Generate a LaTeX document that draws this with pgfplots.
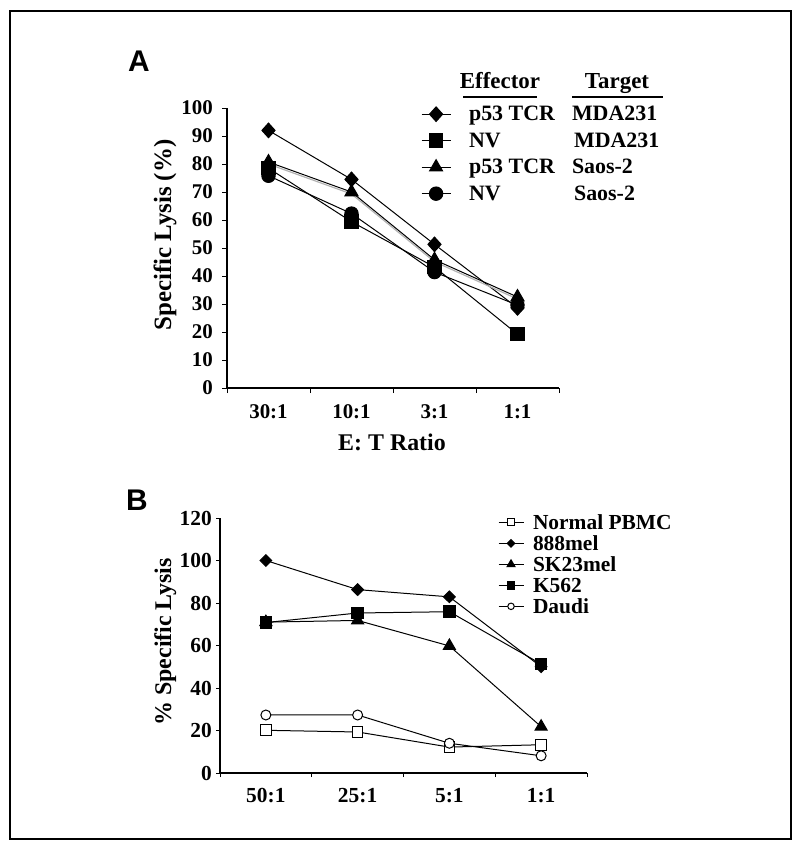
\documentclass[border=0pt]{standalone}
\usepackage{pgfplots}
\pgfplotsset{compat=1.18}
\usepackage{fontspec}
\setmainfont{Liberation Serif}
\newfontfamily\panelfont{Liberation Sans}
\begin{document}
\begin{tikzpicture}
\useasboundingbox (0bp,0bp) rectangle (800bp,-845bp);
\draw[line width=1.5bp] (10bp,-11bp) rectangle (791bp,-839bp);
\node[font=\panelfont\fontsize{30}{34}\selectfont\bfseries] at (139bp,-61bp) {A};
\node[font=\panelfont\fontsize{30}{34}\selectfont\bfseries] at (137bp,-500bp) {B};
% Panel A
\begin{axis}[
  scale only axis, width=332bp, height=280bp,
  at={(227bp,-388bp)}, anchor=south west,
  xmin=-0.5, xmax=3.5, ymin=0, ymax=100,
  axis x line*=bottom, axis y line*=left,
  xtick={-0.5,0.5,1.5,2.5,3.5}, x tick label as interval,
  xticklabels={30:1,10:1,3:1,1:1},
  ytick={0,10,...,100},
  tick align=outside, major tick length=5bp,
  tick style={black, line width=1bp},
  axis line style={line width=1.2bp},
  ticklabel style={font=\fontsize{21}{25}\selectfont\bfseries},
  /pgf/number format/assume math mode=true,
  xticklabel style={inner sep=0pt, yshift=-11bp},
  yticklabel style={inner sep=0pt, xshift=-9bp},
  clip=false,
  legend cell align=left,
  legend style={at={(0.584,1.026)}, anchor=north west, draw=none, fill=none,
    inner sep=0pt, row sep=0pt,
    font=\fontsize{22}{26}\selectfont\bfseries,
    nodes={inner sep=0pt, text height=20bp, text depth=6.5bp},
    /tikz/every odd column/.append style={column sep=18bp}},
  legend image code/.code={\draw[mark repeat=2,mark phase=2,#1] plot coordinates {(0bp,0bp)(14.5bp,0bp)(29bp,0bp)};},
]
\addplot[black, line width=1bp, mark=diamond*, mark size=7.3bp, mark options={xscale=1.2}] coordinates {(0,92) (1,74.5) (2,51.3) (3,28.6)};
\addlegendentry{\makebox[103bp][l]{p53 TCR}MDA231}
\addplot[black, line width=1bp, mark=square*, mark size=6.7bp] coordinates {(0,78.5) (1,59.4) (2,43.2) (3,19.2)};
\addlegendentry{\makebox[105bp][l]{NV}MDA231}
\addplot[gray!60, line width=1.2bp, forget plot, transform canvas={yshift=-2bp}] coordinates {(0,80.7) (1,70) (2,45.8) (3,32.5)};
\addplot[black, line width=1bp, mark=triangle*, mark size=7.5bp] coordinates {(0,80.7) (1,70) (2,45.8) (3,32.5)};
\addlegendentry{\makebox[103bp][l]{p53 TCR}Saos-2}
\addplot[black, line width=1bp, mark=*, mark size=6.7bp] coordinates {(0,75.8) (1,62.3) (2,41.4) (3,29.6)};
\addlegendentry{\makebox[105bp][l]{NV}Saos-2}
\end{axis}
% headers of legend A
\node[font=\fontsize{23}{27}\selectfont\bfseries, anchor=base] at (500bp,-88bp) {Effector};
\node[font=\fontsize{23}{27}\selectfont\bfseries, anchor=base] at (617bp,-88bp) {Target};
\draw[line width=1.5bp] (463bp,-97bp) -- (537bp,-97bp);
\draw[line width=1.5bp] (572bp,-97bp) -- (663bp,-97bp);
\node[font=\fontsize{25}{29}\selectfont\bfseries, rotate=90, anchor=base] at (171bp,-235bp) {Specific Lysis (\%)};
\node[font=\fontsize{24}{28}\selectfont\bfseries, anchor=base] at (392bp,-450bp) {E: T Ratio};
% Panel B
\begin{axis}[
  scale only axis, width=367bp, height=255bp,
  at={(220bp,-773bp)}, anchor=south west,
  xmin=-0.5, xmax=3.5, ymin=0, ymax=120,
  axis x line*=bottom, axis y line*=left,
  xtick={-0.5,0.5,1.5,2.5,3.5}, x tick label as interval,
  xticklabels={50:1,25:1,5:1,1:1},
  ytick={0,20,...,120},
  tick align=outside, major tick length=4bp,
  tick style={black, line width=1bp},
  axis line style={line width=1.2bp},
  ticklabel style={font=\fontsize{21.5}{25}\selectfont\bfseries},
  /pgf/number format/assume math mode=true,
  xticklabel style={inner sep=0pt, yshift=-11bp},
  yticklabel style={inner sep=0pt, xshift=-4bp},
  clip=false,
  legend cell align=left,
  legend style={at={(0.757,1.025)}, anchor=north west, draw=none, fill=none,
    inner sep=0pt, row sep=0pt,
    font=\fontsize{21.5}{25}\selectfont\bfseries,
    nodes={inner sep=0pt, text height=17.5bp, text depth=3.5bp},
    /tikz/every odd column/.append style={column sep=9bp}},
  legend image code/.code={\draw[mark repeat=2,mark phase=2,#1,every mark/.append style={scale=0.65}] plot coordinates {(0bp,0bp)(12.5bp,0bp)(25bp,0bp)};},
]
\addplot[black, line width=1bp, mark=square*, mark size=5.3bp, mark options={fill=white}] coordinates {(0,20.1) (1,19.3) (2,12.2) (3,13.3)};
\addlegendentry{Normal PBMC}
\addplot[black, line width=1bp, mark=diamond*, mark size=5.8bp, mark options={xscale=1.35}] coordinates {(0,100) (1,86.3) (2,82.9) (3,50)};
\addlegendentry{888mel}
\addplot[black, line width=1bp, mark=triangle*, mark size=7bp] coordinates {(0,71) (1,71.8) (2,59.8) (3,21.8)};
\addlegendentry{SK23mel}
\addplot[black, line width=1bp, mark=square*, mark size=5.8bp] coordinates {(0,70.8) (1,75.3) (2,75.9) (3,51.3)};
\addlegendentry{K562}
\addplot[black, line width=1bp, mark=*, mark size=5bp, mark options={fill=white}] coordinates {(0,27.3) (1,27.3) (2,14) (3,8.1)};
\addlegendentry{Daudi}
\end{axis}
\node[font=\fontsize{24}{28}\selectfont\bfseries, rotate=90, anchor=base] at (171bp,-642bp) {\% Specific Lysis};
\end{tikzpicture}
\end{document}
